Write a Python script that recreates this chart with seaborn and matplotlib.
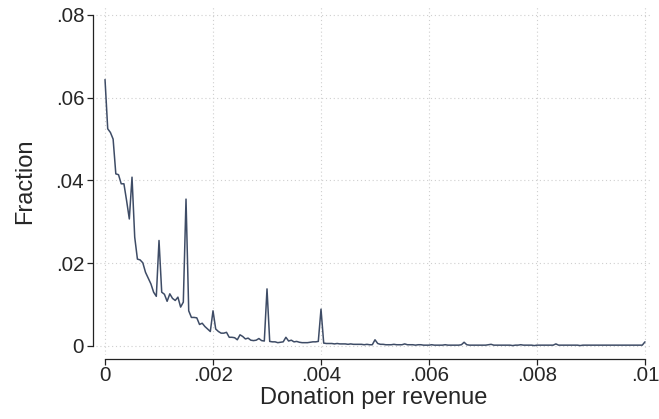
import numpy as np
import pandas as pd
import matplotlib
matplotlib.use("Agg")
import matplotlib.pyplot as plt
import seaborn as sns

# Histogram of donation / revenue, bins of width .00005 (0 .. .01)
frac_start = [0.0644, 0.0525, 0.0516, 0.0500, 0.0416, 0.0414, 0.0392, 0.0392, 0.0351, 0.0307,
              0.0408, 0.0263, 0.0210, 0.0208, 0.0201, 0.0178, 0.0164, 0.0150, 0.0130, 0.0120,
              0.0255, 0.0130, 0.0125, 0.0108, 0.0126, 0.0115, 0.0110, 0.0118, 0.0094, 0.0106,
              0.0355, 0.0085, 0.0069, 0.0069, 0.0068, 0.0052, 0.0055, 0.0047, 0.0041, 0.0035,
              0.0085]
frac_mid = [0.0041, 0.0035, 0.0031, 0.0031, 0.0033, 0.0021, 0.0021, 0.0020, 0.0015, 0.0027,
            0.0023, 0.0017, 0.0019, 0.0014, 0.0013, 0.0014, 0.0018, 0.0013, 0.0012, 0.0138,
            0.0011, 0.0010, 0.0010, 0.0008, 0.0009, 0.0010, 0.0021, 0.0012, 0.0014, 0.0010,
            0.0011, 0.0009, 0.0008, 0.0008, 0.0008, 0.0009, 0.0010, 0.0010, 0.0011, 0.0089,
            0.0007, 0.0006]
frac_tail1 = [0.0006, 0.0006, 0.0005, 0.0006, 0.0005, 0.0005, 0.0005, 0.0004, 0.0005, 0.0004,
              0.0004, 0.0004, 0.0004, 0.0003, 0.0004, 0.0003, 0.0003, 0.0015]
frac_tail2 = [0.0006, 0.0004, 0.0004, 0.0003, 0.0003, 0.0003, 0.0004, 0.0003, 0.0003, 0.0003,
              0.0005, 0.0003, 0.0003, 0.0003, 0.0002, 0.0003, 0.0003, 0.0002, 0.0002, 0.0002,
              0.0003, 0.0002, 0.0002, 0.0002, 0.0002, 0.0003, 0.0002, 0.0002, 0.0002, 0.0002,
              0.0002, 0.0003, 0.0009]
frac_tail3 = [0.0003, 0.0002, 0.0002, 0.0002, 0.0002, 0.0002, 0.0002, 0.0002, 0.0003, 0.0004,
              0.0002, 0.0002, 0.0002, 0.0002, 0.0002, 0.0002, 0.0002, 0.0001, 0.0002, 0.0002,
              0.0003, 0.0002, 0.0002, 0.0002, 0.0002, 0.0001, 0.0002, 0.0002, 0.0002, 0.0002,
              0.0002, 0.0002, 0.0002, 0.0005]
frac_tail4 = [0.0002, 0.0002, 0.0002, 0.0002, 0.0002, 0.0002, 0.0002, 0.0002, 0.0001, 0.0002,
              0.0002, 0.0002, 0.0002, 0.0002, 0.0002, 0.0002, 0.0002, 0.0002, 0.0002, 0.0002,
              0.0002, 0.0002, 0.0002, 0.0002, 0.0002, 0.0002, 0.0002, 0.0002, 0.0002, 0.0002,
              0.0002, 0.0002, 0.0010]

fraction = frac_start + frac_mid + frac_tail1 + frac_tail2 + frac_tail3 + frac_tail4
donation = np.linspace(0, 0.01, len(fraction))

x_ticks = [0, 0.002, 0.004, 0.006, 0.008, 0.01]
x_labels = ["0", ".002", ".004", ".006", ".008", ".01"]
y_ticks = [0, 0.02, 0.04, 0.06, 0.08]
y_labels = ["0", ".02", ".04", ".06", ".08"]

df = pd.DataFrame({"donation": donation, "fraction": fraction})

sns.set_style("white")
plt.rcParams["font.family"] = ["Liberation Sans", "DejaVu Sans"]

fig = plt.figure(figsize=(6.59, 4.19), dpi=100)
ax = fig.add_axes([96 / 659, 64 / 419, 556 / 659, 348 / 419])

sns.lineplot(data=df, x="donation", y="fraction", ax=ax, color="#3e4c66", linewidth=1.1)

ax.set_xlim(-0.000167, 0.01013)
ax.set_ylim(-0.00218, 0.08193)
ax.set_xticks(x_ticks)
ax.set_xticklabels(x_labels)
ax.set_yticks(y_ticks)
ax.set_yticklabels(y_labels)
ax.tick_params(axis="both", labelsize=14.8, length=4, width=0.9, color="#222222",
               direction="out", left=True, bottom=True, pad=2.5)
ax.tick_params(axis="x", pad=1)
ax.set_xlabel("Donation per revenue", fontsize=17, labelpad=1)
ax.set_ylabel("Fraction", fontsize=17, labelpad=14)

ax.grid(True, color="#cfcfcf", linestyle=(0, (1, 2.5)), linewidth=0.8)
ax.set_axisbelow(True)

for side in ["top", "right"]:
    ax.spines[side].set_visible(False)
ax.spines["left"].set_position(("outward", 2))
ax.spines["bottom"].set_position(("outward", 3))
ax.spines["left"].set_bounds(0, 0.08)
ax.spines["bottom"].set_bounds(0, 0.01)
for side in ["left", "bottom"]:
    ax.spines[side].set_color("#222222")
    ax.spines[side].set_linewidth(0.9)

fig.savefig("out.png", dpi=100)
